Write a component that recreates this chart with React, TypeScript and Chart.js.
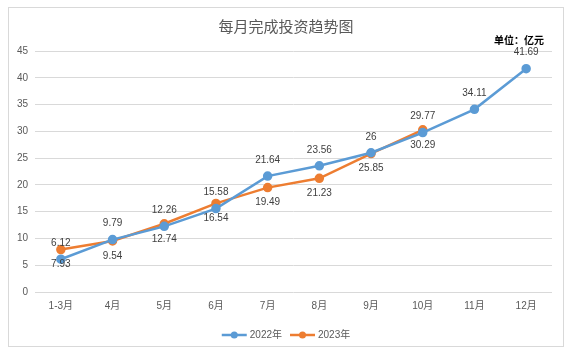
import React, { useEffect, useRef } from "react";
import { Chart, registerables } from "chart.js";

Chart.register(...registerables);

const categories = ["1-3月", "4月", "5月", "6月", "7月", "8月", "9月", "10月", "11月", "12月"];
const series2022 = [6.12, 9.79, 12.26, 15.58, 21.64, 23.56, 26, 29.77, 34.11, 41.69];
const series2023 = [7.93, 9.54, 12.74, 16.54, 19.49, 21.23, 25.85, 30.29];
const seriesNames = ["2022年", "2023年"];
const yMax = 45;
const yStep = 5;
const titleText = "每月完成投资趋势图";
const unitText = "单位：亿元";

const BLUE = "#5B9BD5";
const ORANGE = "#ED7D31";
const FONT = "'Liberation Sans', 'Noto Sans CJK SC', sans-serif";

const decorPlugin = {
  id: "decor",
  afterDatasetsDraw(chart: any) {
    const ctx = chart.ctx;
    const area = chart.chartArea;
    ctx.save();
    // data labels
    ctx.font = `10px ${FONT}`;
    ctx.fillStyle = "#404040";
    ctx.textAlign = "center";
    ctx.textBaseline = "middle";
    chart.data.datasets.forEach((ds: any, i: number) => {
      const meta = chart.getDatasetMeta(i);
      meta.data.forEach((pt: any, j: number) => {
        const v = ds.data[j];
        if (v == null) return;
        const dy = i === 0 ? -16 : 15;
        ctx.fillText(String(v), pt.x, pt.y + dy);
      });
    });
    // title
    ctx.font = `15px 'Noto Sans CJK SC', sans-serif`;
    ctx.fillStyle = "#595959";
    ctx.fillText(titleText, chart.width / 2, 18);
    // unit
    ctx.font = `bold 10px 'Noto Sans CJK SC', serif`;
    ctx.fillStyle = "#000000";
    ctx.textAlign = "right";
    ctx.fillText(unitText, area.right - 8, area.top - 11);
    // legend
    const ly = 327;
    const items = [
      { name: seriesNames[0], color: BLUE },
      { name: seriesNames[1], color: ORANGE },
    ];
    ctx.font = `10px ${FONT}`;
    const lineLen = 25;
    const gap = 3;
    const between = 8;
    const widths = items.map((it) => lineLen + gap + ctx.measureText(it.name).width);
    const total = widths.reduce((a, b) => a + b, 0) + between;
    let x = chart.width / 2 - total / 2;
    items.forEach((it, k) => {
      ctx.strokeStyle = it.color;
      ctx.lineWidth = 2.5;
      ctx.beginPath();
      ctx.moveTo(x, ly);
      ctx.lineTo(x + lineLen, ly);
      ctx.stroke();
      ctx.fillStyle = it.color;
      ctx.beginPath();
      ctx.arc(x + lineLen / 2, ly, 3.5, 0, Math.PI * 2);
      ctx.fill();
      ctx.fillStyle = "#595959";
      ctx.textAlign = "left";
      ctx.fillText(it.name, x + lineLen + gap, ly);
      x += widths[k] + between;
    });
    ctx.restore();
  },
};

export default function App() {
  const ref = useRef<HTMLCanvasElement | null>(null);
  useEffect(() => {
    if (!ref.current) return;
    const chart = new Chart(ref.current, {
      type: "line",
      data: {
        labels: categories,
        datasets: [
          {
            label: seriesNames[0],
            data: series2022,
            borderColor: BLUE,
            backgroundColor: BLUE,
            borderWidth: 2.5,
            pointRadius: 3.5,
            pointHoverRadius: 3.5,
            tension: 0,
          },
          {
            label: seriesNames[1],
            data: series2023,
            borderColor: ORANGE,
            backgroundColor: ORANGE,
            borderWidth: 2.5,
            pointRadius: 3.5,
            pointHoverRadius: 3.5,
            tension: 0,
          },
        ],
      },
      options: {
        animation: false,
        responsive: false,
        maintainAspectRatio: false,
        layout: { padding: { top: 43, right: 11, left: 0, bottom: 34 } },
        plugins: {
          legend: { display: false },
          title: { display: false },
          tooltip: { enabled: false },
        },
        scales: {
          x: {
            offset: true,
            grid: { display: false, drawTicks: false },
            border: { display: false },
            ticks: { color: "#595959", font: { size: 10, family: FONT }, padding: 8, maxRotation: 0 },
            afterFit: (s: any) => {
              s.height = 20;
            },
          },
          y: {
            min: 0,
            max: yMax,
            ticks: { stepSize: yStep, color: "#595959", font: { size: 10, family: FONT }, padding: 7 },
            grid: { color: "#d9d9d9", drawTicks: false, lineWidth: 1 },
            border: { display: false },
            afterFit: (s: any) => {
              s.width = 26;
            },
          },
        },
      },
      plugins: [decorPlugin],
    });
    return () => chart.destroy();
  }, []);
  return (
    <div
      style={{
        position: "absolute",
        left: 8,
        top: 7,
        width: 556,
        height: 340,
        border: "1px solid #d9d9d9",
        boxSizing: "border-box",
        background: "#fff",
      }}
    >
      <canvas ref={ref} width={554} height={338} style={{ display: "block" }} />
    </div>
  );
}
